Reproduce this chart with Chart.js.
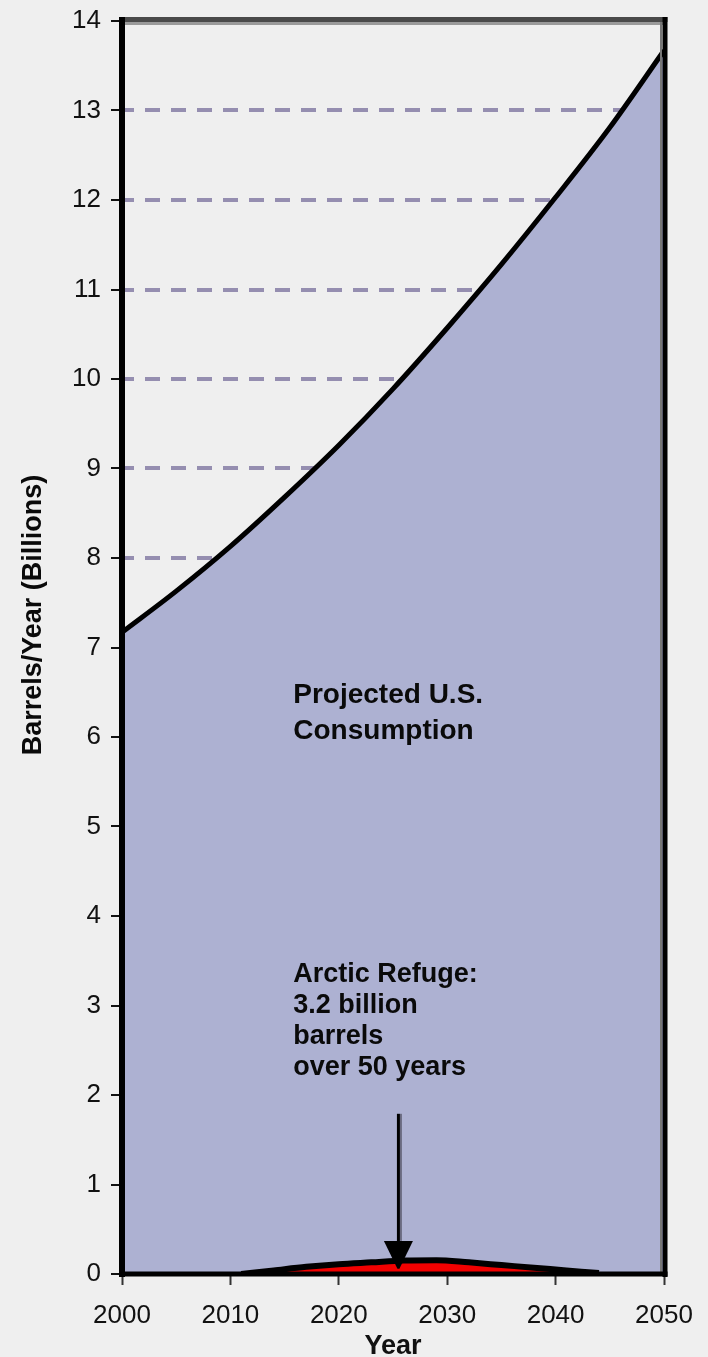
<!DOCTYPE html>
<html>
<head>
<meta charset="utf-8">
<script src="https://cdn.jsdelivr.net/npm/chart.js@4/dist/chart.umd.min.js"></script>
<style>
  html, body { margin: 0; padding: 0; background: #EFEFEF; }
  #wrap { width: 708px; height: 1357px; }
</style>
</head>
<body>
<div id="wrap"><canvas id="c" width="708" height="1357"></canvas></div>
<script>
// ---- data ----
const consumptionYears  = [2000, 2005, 2010, 2015, 2020, 2025, 2030, 2035, 2040, 2045, 2050];
const consumptionValues = [7.17, 7.63, 8.13, 8.68, 9.26, 9.89, 10.57, 11.28, 12.03, 12.81, 13.67];
const refugeYears  = [2011, 2014, 2017, 2020, 2023, 2026, 2029, 2032, 2035, 2038, 2041, 2044];
const refugeValues = [0.0, 0.04, 0.08, 0.11, 0.13, 0.15, 0.155, 0.13, 0.10, 0.07, 0.04, 0.01];
const xTickValues = [2000, 2010, 2020, 2030, 2040, 2050];
const yTickValues = [0, 1, 2, 3, 4, 5, 6, 7, 8, 9, 10, 11, 12, 13, 14];
const xTitle = 'Year';
const yTitle = 'Barrels/Year (Billions)';
const consumptionLabel = ['Projected U.S.', 'Consumption'];
const refugeLabel = ['Arctic Refuge:', '3.2 billion', 'barrels', 'over 50 years'];
// annotation anchors (data units)
const consumptionLabelAt = { x: 2015.8, y: 6.38 };
const refugeLabelAt = { x: 2015.8, y: 3.26 };
const arrowAt = { x: 2025.5, yTop: 1.79, yHead: 0.37, yTip: 0.06 };

const FONT = "'Liberation Sans', Arial, Helvetica, sans-serif";

const toPoints = (xs, ys) => xs.map((x, i) => ({ x: x, y: ys[i] }));

const decorPlugin = {
  id: 'decor',
  beforeDraw(chart) {
    const c = chart.ctx;
    c.save();
    c.fillStyle = '#EFEFEF';
    c.fillRect(0, 0, chart.width, chart.height);
    c.restore();
  },
  afterDatasetsDraw(chart) {
    const c = chart.ctx;
    const a = chart.chartArea;
    const xs = chart.scales.x, ys = chart.scales.y;
    c.save();
    c.lineCap = 'butt';
    // top
    c.strokeStyle = '#4a4a4a'; c.lineWidth = 5;
    c.beginPath(); c.moveTo(a.left - 3, a.top - 1.5); c.lineTo(a.right + 3.5, a.top - 1.5); c.stroke();
    c.strokeStyle = '#9a9a9a'; c.lineWidth = 3;
    c.beginPath(); c.moveTo(a.left, a.top + 2.5); c.lineTo(a.right, a.top + 2.5); c.stroke();
    // right
    c.strokeStyle = '#777'; c.lineWidth = 2;
    c.beginPath(); c.moveTo(a.right - 3, a.top + 1); c.lineTo(a.right - 3, a.bottom); c.stroke();
    c.strokeStyle = '#000'; c.lineWidth = 5;
    c.beginPath(); c.moveTo(a.right + 1, a.top - 4); c.lineTo(a.right + 1, a.bottom + 3); c.stroke();
    // left
    c.strokeStyle = '#000'; c.lineWidth = 6;
    c.beginPath(); c.moveTo(a.left, a.top - 4); c.lineTo(a.left, a.bottom + 3); c.stroke();
    // bottom
    c.lineWidth = 5;
    c.beginPath(); c.moveTo(a.left - 3, a.bottom); c.lineTo(a.right + 3.5, a.bottom); c.stroke();

    // arrow
    const ax = xs.getPixelForValue(arrowAt.x);
    const aTop = ys.getPixelForValue(arrowAt.yTop);
    const aHead = ys.getPixelForValue(arrowAt.yHead);
    const aTip = ys.getPixelForValue(arrowAt.yTip);
    c.strokeStyle = '#6a6a80'; c.lineWidth = 2;
    c.beginPath(); c.moveTo(ax + 2.5, aTop); c.lineTo(ax + 2.5, aHead); c.stroke();
    c.strokeStyle = '#000'; c.lineWidth = 3;
    c.beginPath(); c.moveTo(ax, aTop); c.lineTo(ax, aHead + 2); c.stroke();
    c.fillStyle = '#000';
    c.beginPath();
    c.moveTo(ax - 14.5, aHead); c.lineTo(ax + 14.5, aHead); c.lineTo(ax + 1, aTip); c.lineTo(ax - 1, aTip);
    c.closePath(); c.fill();

    // annotation texts
    c.fillStyle = '#0a0a0a';
    c.textAlign = 'left'; c.textBaseline = 'alphabetic';
    c.font = 'bold 28px ' + FONT;
    let tx = xs.getPixelForValue(consumptionLabelAt.x);
    let ty = ys.getPixelForValue(consumptionLabelAt.y);
    consumptionLabel.forEach((s, i) => c.fillText(s, tx, ty + i * 36));
    c.font = 'bold 27px ' + FONT;
    tx = xs.getPixelForValue(refugeLabelAt.x);
    ty = ys.getPixelForValue(refugeLabelAt.y);
    refugeLabel.forEach((s, i) => c.fillText(s, tx, ty + i * 31));

    // y-axis title
    c.font = 'bold 27px ' + FONT;
    c.textAlign = 'center'; c.textBaseline = 'middle';
    c.translate(34, 615);
    c.rotate(-Math.PI / 2);
    c.fillText(yTitle, 0, 0);
    c.restore();
  }
};

new Chart(document.getElementById('c'), {
  type: 'line',
  data: {
    datasets: [
      {
        label: refugeLabel.join(' '),
        data: toPoints(refugeYears, refugeValues),
        borderColor: '#000',
        borderWidth: 6,
        backgroundColor: '#F20000',
        fill: 'origin',
        pointRadius: 0,
        cubicInterpolationMode: 'monotone',
        order: 0
      },
      {
        label: consumptionLabel.join(' '),
        data: toPoints(consumptionYears, consumptionValues),
        borderColor: '#000',
        borderWidth: 5,
        backgroundColor: '#ADB1D2',
        fill: 'origin',
        pointRadius: 0,
        cubicInterpolationMode: 'monotone',
        order: 1
      }
    ]
  },
  options: {
    responsive: false,
    animation: false,
    devicePixelRatio: 1,
    layout: { autoPadding: false, padding: { top: 21, right: 44, left: 0, bottom: 0 } },
    plugins: { legend: { display: false }, tooltip: { enabled: false } },
    scales: {
      x: {
        type: 'linear',
        min: xTickValues[0],
        max: xTickValues[xTickValues.length - 1],
        afterBuildTicks: (s) => { s.ticks = xTickValues.map(v => ({ value: v })); },
        afterFit: (s) => { s.height = 83; s.paddingLeft = 0; s.paddingRight = 0; },
        border: { display: false },
        grid: {
          drawOnChartArea: false, drawTicks: true, tickLength: 11,
          tickColor: '#333', tickWidth: 2, color: '#333'
        },
        ticks: {
          autoSkip: false, maxRotation: 0, padding: 15,
          color: '#111', font: { family: FONT, size: 26 },
          callback: (v) => String(v)
        },
        title: {
          display: true, text: xTitle, color: '#111',
          font: { family: FONT, size: 27, weight: 'bold', lineHeight: 1 },
          padding: { top: 0, bottom: -3 }
        }
      },
      y: {
        type: 'linear',
        min: yTickValues[0],
        max: yTickValues[yTickValues.length - 1],
        afterBuildTicks: (s) => { s.ticks = yTickValues.map(v => ({ value: v })); },
        afterFit: (s) => { s.width = 122; s.paddingTop = 0; s.paddingBottom = 0; },
        border: { display: false, dash: [15, 11], dashOffset: 3 },
        grid: {
          color: '#958EB0', lineWidth: 4,
          drawTicks: true, tickLength: 11, tickColor: '#111', tickWidth: 2,
          tickBorderDash: [], tickBorderDashOffset: 0
        },
        ticks: {
          padding: 10, color: '#111', font: { family: FONT, size: 26 },
          callback: (v) => String(v)
        }
      }
    }
  },
  plugins: [decorPlugin]
});
</script>
</body>
</html>
